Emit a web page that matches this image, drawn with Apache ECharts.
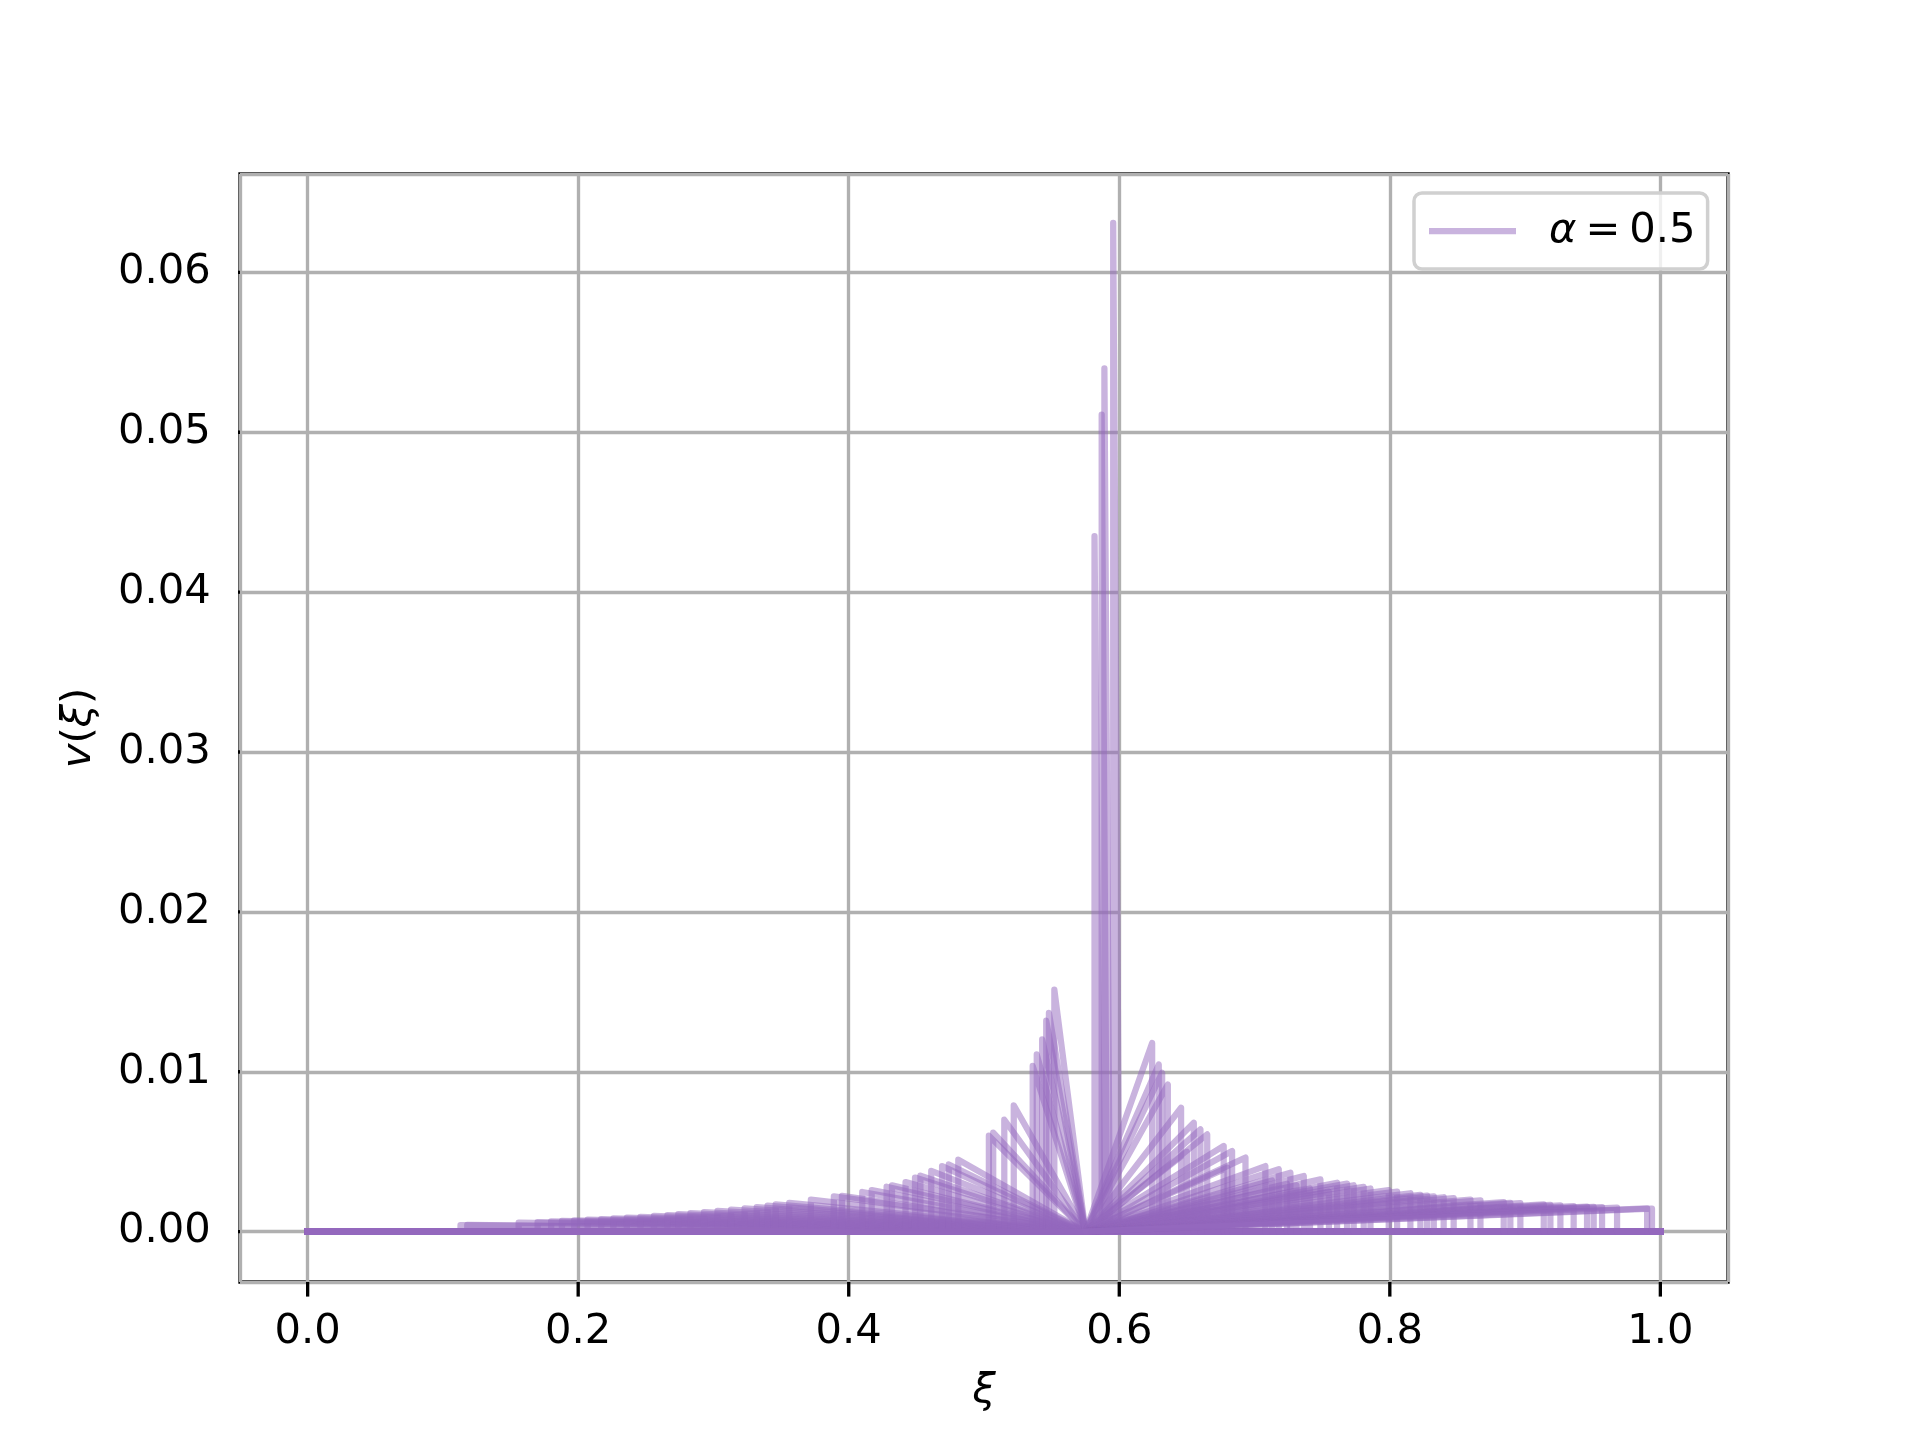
<!DOCTYPE html>
<html>
<head>
<meta charset="utf-8">
<script src="https://cdn.jsdelivr.net/npm/echarts@6/dist/echarts.min.js"></script>
<style>
html,body{margin:0;padding:0;background:#fff;}
#chart{width:1920px;height:1440px;}
</style>
</head>
<body>
<div id="chart"></div>
<script>
// ---- data ----
const seriesName = 'α = 0.5';
// convergence point of the fan (ξ where profiles return to zero)
const convergeX = 0.575;
// left jumps: position of the jump and its height
const leftX = [0.113, 0.118, 0.156, 0.170, 0.180, 0.188, 0.197, 0.207, 0.217, 0.226,
               0.236, 0.246, 0.256, 0.266, 0.274, 0.283, 0.293, 0.303, 0.313, 0.323,
               0.332, 0.340, 0.346, 0.356, 0.372, 0.389, 0.395, 0.410, 0.417, 0.428,
               0.432, 0.442, 0.449, 0.453, 0.461, 0.469, 0.474, 0.481, 0.5036, 0.5068,
               0.515, 0.522, 0.536, 0.539, 0.543, 0.546, 0.548, 0.552];
const leftH = [0.00040, 0.00042, 0.00056, 0.00060, 0.00064, 0.00067, 0.00071, 0.00075, 0.00079, 0.00083,
               0.00088, 0.00093, 0.00099, 0.00104, 0.00110, 0.00116, 0.00122, 0.00130, 0.00138, 0.00146,
               0.00154, 0.00162, 0.00170, 0.00180, 0.00200, 0.00220, 0.00224, 0.00248, 0.00260, 0.00281,
               0.00290, 0.00310, 0.00338, 0.00350, 0.00380, 0.00410, 0.00420, 0.00450, 0.00600, 0.00620,
               0.00700, 0.00790, 0.01036, 0.01108, 0.01202, 0.01319, 0.01369, 0.01514];
// right drops: position of the drop and its height
const rightX = [0.6243, 0.6292, 0.6317, 0.6359, 0.6457, 0.650, 0.6551, 0.660, 0.665, 0.6772,
                0.680, 0.6834, 0.6933, 0.708, 0.713, 0.7179, 0.724, 0.7265, 0.731, 0.7364,
                0.741, 0.7487, 0.755, 0.761, 0.7684, 0.7733, 0.7807, 0.7857, 0.7992, 0.8054,
                0.8152, 0.8226, 0.8276, 0.8325, 0.8398, 0.8472, 0.8596, 0.867, 0.8842, 0.8891,
                0.8965, 0.9138, 0.9187, 0.9261, 0.9359, 0.9458, 0.9507, 0.9569, 0.968, 0.9902,
                0.9938];
const rightH = [0.0118, 0.01046, 0.00994, 0.0092, 0.00775, 0.0050, 0.00681, 0.0064, 0.00608, 0.00536,
                0.0040, 0.00504, 0.00463, 0.0041, 0.0032, 0.0039, 0.0030, 0.00369, 0.0029, 0.00348,
                0.0027, 0.00327, 0.0025, 0.00306, 0.0030, 0.0029, 0.0028, 0.0027, 0.0026, 0.0025,
                0.0024, 0.0023, 0.00225, 0.0022, 0.00215, 0.0021, 0.0020, 0.00195, 0.00185, 0.0018,
                0.00178, 0.0017, 0.00168, 0.00165, 0.0016, 0.00157, 0.00155, 0.00153, 0.0015, 0.00145,
                0.00144];
// tall central spikes: jump position, height, end position
const peakX = [0.5817, 0.587, 0.589, 0.5955];
const peakH = [0.0435, 0.0511, 0.0540, 0.0631];
const peakEnd = [0.586, 0.591, 0.593, 0.600];
// axes
const xMin = -0.05, xMax = 1.05;
const yMin = -0.00315, yMax = 0.06615;
const xTicks = [0, 0.2, 0.4, 0.6, 0.8, 1.0];
const yTicks = [0, 0.01, 0.02, 0.03, 0.04, 0.05, 0.06];

// ---- build ----
const PX = 300 / 72;            // points -> px at 300 dpi
const lineW = 1.5 * PX;
const thin = 0.8 * PX;
const tickLen = 3.5 * PX;
const fs = 10 * PX;
const font = 'DejaVu Sans';
const purple = 'rgba(148,103,189,0.5)';
const G = { left: 240, top: 174, width: 1488, height: 1108 };

const curves = [];
leftX.forEach((a, i) => curves.push([[0, 0], [a, 0], [a, leftH[i]], [convergeX, 0], [1, 0]]));
peakX.forEach((a, i) => curves.push([[0, 0], [a, 0], [a, peakH[i]], [peakEnd[i], 0], [1, 0]]));
rightX.forEach((b, i) => curves.push([[0, 0], [convergeX, 0], [b, rightH[i]], [b, 0], [1, 0]]));

const series = curves.map(d => ({
  type: 'line',
  name: seriesName,
  data: d,
  showSymbol: false,
  symbol: 'none',
  animation: false,
  silent: true,
  lineStyle: { color: purple, width: lineW, cap: 'square', join: 'round' },
  itemStyle: { color: purple }
}));

// outward tick marks as unclipped line segments in data space
const dxTick = tickLen / G.width * (xMax - xMin);
const dyTick = tickLen / G.height * (yMax - yMin);
const tickStyle = { color: '#000', width: thin, cap: 'butt' };
yTicks.forEach(v => series.push({
  type: 'line', name: 'ytick', data: [[xMin - dxTick, v], [xMin, v]],
  clip: false, showSymbol: false, symbol: 'none', silent: true, animation: false, z: 20,
  lineStyle: tickStyle, itemStyle: { color: '#000' }
}));
xTicks.forEach(v => series.push({
  type: 'line', name: 'xtick', data: [[v, yMin], [v, yMin - dyTick]],
  clip: false, showSymbol: false, symbol: 'none', silent: true, animation: false, z: 20,
  lineStyle: tickStyle, itemStyle: { color: '#000' }
}));

const chart = echarts.init(document.getElementById('chart'), null, { renderer: 'canvas' });
chart.setOption({
  animation: false,
  backgroundColor: '#fff',
  textStyle: { fontFamily: font, color: '#000' },
  grid: Object.assign({ show: true, borderColor: '#000', borderWidth: thin, backgroundColor: 'transparent' }, G),
  legend: {
    left: 1414, top: 193,
    padding: [17, 12, 17, 15],
    backgroundColor: 'rgba(255,255,255,0.8)',
    borderColor: '#d0d0d0', borderWidth: 3.5, borderRadius: 8,
    itemWidth: 87, itemHeight: lineW,
    data: [{ name: seriesName, icon: 'rect', itemStyle: { color: purple } }],
    formatter: () => '{s|}{i|α}{g|}={g|}0.5',
    textStyle: {
      fontFamily: font, fontSize: fs, color: '#000',
      rich: {
        s: { width: 28 },
        g: { width: 9 },
        i: { fontStyle: 'italic', fontFamily: font, fontSize: fs, color: '#000' }
      }
    }
  },
  xAxis: {
    type: 'value', min: xMin, max: xMax,
    name: 'ξ', nameLocation: 'middle', nameGap: 88,
    nameTextStyle: { fontFamily: font, fontSize: fs, fontStyle: 'italic', color: '#000' },
    axisLine: { show: false, onZero: false },
    axisTick: { show: false },
    axisLabel: { customValues: xTicks, margin: 7 * PX, fontSize: fs, fontFamily: font, color: '#000',
                 formatter: v => v.toFixed(1) },
    splitLine: { show: true, lineStyle: { color: '#b0b0b0', width: thin } }
  },
  yAxis: {
    type: 'value', min: yMin, max: yMax,
    name: '{i|v}({i|ξ})', nameLocation: 'middle', nameGap: 140,
    nameTextStyle: { fontFamily: font, fontSize: fs, color: '#000',
      rich: { i: { fontStyle: 'italic', fontFamily: font, fontSize: fs, color: '#000' } } },
    axisLine: { show: false, onZero: false },
    axisTick: { show: false },
    axisLabel: { customValues: yTicks, margin: 7 * PX, fontSize: fs, fontFamily: font, color: '#000',
                 formatter: v => v.toFixed(2) },
    splitLine: { show: true, lineStyle: { color: '#b0b0b0', width: thin } }
  },
  series: series
});
</script>
</body>
</html>
